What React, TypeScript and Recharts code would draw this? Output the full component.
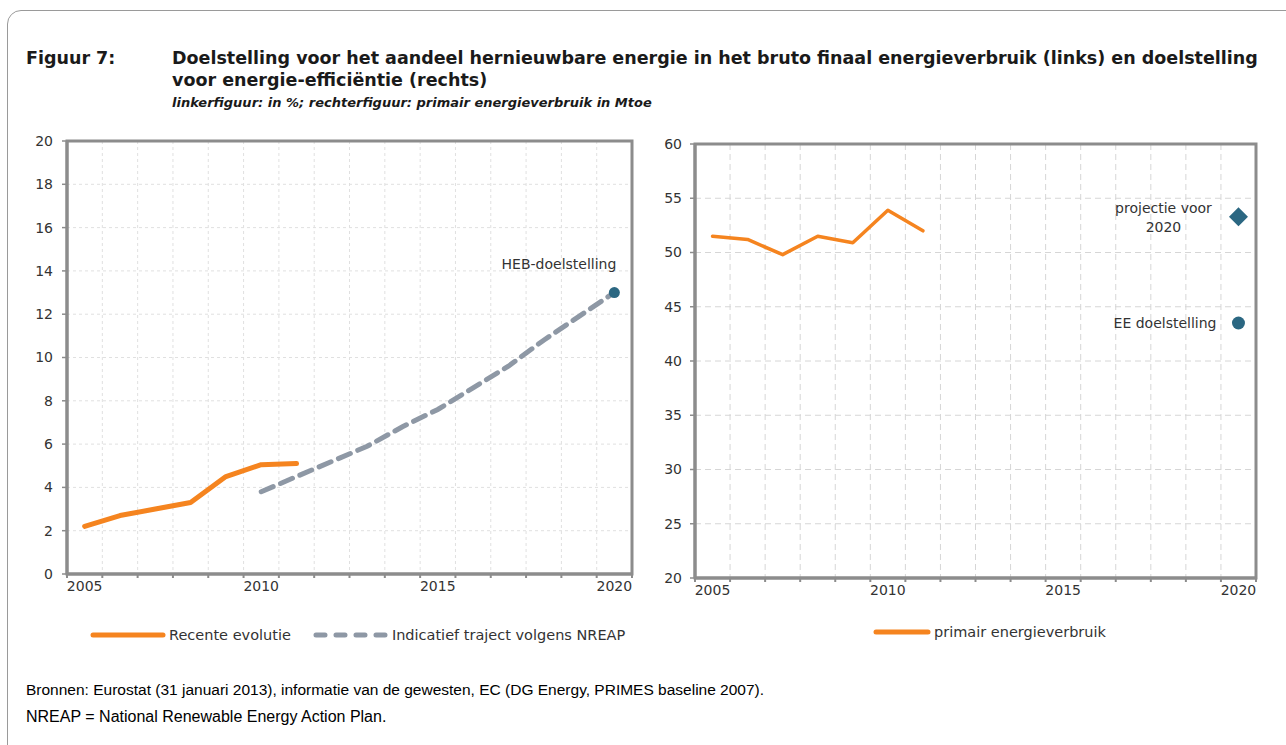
import React from "react";
import {
  CartesianGrid,
  ComposedChart,
  Line,
  ReferenceArea,
  Scatter,
  XAxis,
  YAxis,
} from "recharts";

const YEARS = [2005, 2006, 2007, 2008, 2009, 2010, 2011, 2012, 2013, 2014, 2015, 2016, 2017, 2018, 2019, 2020];
const YEAR_LABELS = [2005, 2010, 2015, 2020];

// linkerfiguur: aandeel hernieuwbare energie, %
const RECENT = [2.2, 2.7, 3.0, 3.3, 4.5, 5.05, 5.1, null, null, null, null, null, null, null, null, null];
const NREAP = [null, null, null, null, null, 3.8, 4.5, 5.2, 5.9, 6.8, 7.6, 8.6, 9.6, 10.8, 11.9, 13.0];
const HEB_TARGET = [null, null, null, null, null, null, null, null, null, null, null, null, null, null, null, 13.0];
const LEFT_TICKS = [0, 2, 4, 6, 8, 10, 12, 14, 16, 18, 20];

// rechterfiguur: primair energieverbruik, Mtoe
const PRIMARY = [51.5, 51.2, 49.8, 51.5, 50.9, 53.9, 52.0, null, null, null, null, null, null, null, null, null];
const PROJECTION = [null, null, null, null, null, null, null, null, null, null, null, null, null, null, null, 53.3];
const EE_TARGET = [null, null, null, null, null, null, null, null, null, null, null, null, null, null, null, 43.5];
const RIGHT_TICKS = [20, 25, 30, 35, 40, 45, 50, 55, 60];

const ORANGE = "#F5841F";
const GREY = "#8E98A5";
const TEAL = "#2B6782";
const AXIS = "#8C8C8C";
const TEXT = "#333333";
const FONT = "'DejaVu Sans', sans-serif";

// category borders, so grid lines fall between the years
const X_BOUNDS = [...YEARS.map((y) => y - 0.5), YEARS[YEARS.length - 1] + 0.5];
const X_DOMAIN = [X_BOUNDS[0], X_BOUNDS[X_BOUNDS.length - 1]];

const leftData = YEARS.map((year, i) => ({ year, recent: RECENT[i], nreap: NREAP[i] }));
const hebData = YEARS.map((year, i) => ({ year, v: HEB_TARGET[i] })).filter((d) => d.v != null);

const rightData = YEARS.map((year, i) => ({ year, primary: PRIMARY[i] }));
const projData = YEARS.map((year, i) => ({ year, v: PROJECTION[i] })).filter((d) => d.v != null);
const eeData = YEARS.map((year, i) => ({ year, v: EE_TARGET[i] })).filter((d) => d.v != null);

const tickStyle = { fontSize: 14, fill: TEXT, fontFamily: FONT };

function HebDot(props: any) {
  const { cx, cy } = props;
  return (
    <g>
      <circle cx={cx} cy={cy} r={5.5} fill={TEAL} />
      <text x={cx + 2} y={cy - 24} textAnchor="end" fontSize={14} fill={TEXT} fontFamily={FONT}>
        HEB-doelstelling
      </text>
    </g>
  );
}

function ProjDiamond(props: any) {
  const { cx, cy } = props;
  const s = 9.5;
  return (
    <g>
      <path d={`M${cx},${cy - s}L${cx + s},${cy}L${cx},${cy + s}L${cx - s},${cy}Z`} fill={TEAL} />
      <text x={cx - 75} y={cy - 4} textAnchor="middle" fontSize={14} fill={TEXT} fontFamily={FONT}>
        projectie voor
      </text>
      <text x={cx - 75} y={cy + 15} textAnchor="middle" fontSize={14} fill={TEXT} fontFamily={FONT}>
        2020
      </text>
    </g>
  );
}

function EeDot(props: any) {
  const { cx, cy } = props;
  return (
    <g>
      <circle cx={cx} cy={cy} r={6.5} fill={TEAL} />
      <text x={cx - 22} y={cy + 5} textAnchor="end" fontSize={14} fill={TEXT} fontFamily={FONT}>
        EE doelstelling
      </text>
    </g>
  );
}

function LegendItem({ color, dashed, width, label }: { color: string; dashed?: boolean; width: number; label: string }) {
  return (
    <div style={{ display: "flex", alignItems: "center" }}>
      <svg width={width + 6} height={10} style={{ marginRight: 3 }}>
        <line
          x1={3}
          y1={5}
          x2={width + 3}
          y2={5}
          stroke={color}
          strokeWidth={5}
          strokeLinecap="round"
          strokeDasharray={dashed ? "9 11" : undefined}
        />
      </svg>
      <span style={{ fontSize: 14.5, color: TEXT, fontFamily: FONT }}>{label}</span>
    </div>
  );
}

export default function App() {
  return (
    <div style={{ position: "fixed", left: 0, top: 0, width: 1286, height: 745, overflow: "hidden", background: "#fff" }}>
      <div
        style={{
          position: "absolute",
          left: 7,
          top: 10,
          width: 1320,
          height: 800,
          border: "1px solid #9a9a9a",
          borderRadius: 14,
        }}
      />

      {/* title */}
      <div style={{ position: "absolute", left: 26, top: 47, fontFamily: FONT, fontWeight: "bold", fontSize: 17.5, lineHeight: "22px", color: "#1a1a1a" }}>
        Figuur 7:
      </div>
      <div style={{ position: "absolute", left: 172, top: 47, width: 1110, fontFamily: FONT, fontWeight: "bold", fontSize: 17.5, lineHeight: "22px", color: "#1a1a1a", whiteSpace: "nowrap" }}>
        Doelstelling voor het aandeel hernieuwbare energie in het bruto finaal energieverbruik (links) en doelstelling
        <br />
        voor energie-efficiëntie (rechts)
      </div>
      <div style={{ position: "absolute", left: 172, top: 95, fontFamily: FONT, fontWeight: "bold", fontStyle: "italic", fontSize: 13, lineHeight: "16px", color: "#1a1a1a" }}>
        linkerfiguur: in %; rechterfiguur: primair energieverbruik in Mtoe
      </div>

      {/* left chart */}
      <div style={{ position: "absolute", left: 20, top: 125 }}>
        <ComposedChart width={640} height={480} data={leftData} margin={{ top: 16, right: 28, bottom: 2, left: 0 }}>
          <CartesianGrid xAxisId="grid" stroke="#e0e0e0" strokeDasharray="3 3" />
          <XAxis
            xAxisId="grid"
            type="number"
            dataKey="year"
            domain={X_DOMAIN}
            ticks={X_BOUNDS}
            tickFormatter={() => ""}
            height={5}
            tickSize={4}
            axisLine={{ stroke: AXIS, strokeWidth: 3 }}
            tickLine={{ stroke: AXIS, strokeWidth: 2 }}
          />
          <XAxis
            xAxisId="lbl"
            type="number"
            dataKey="year"
            domain={X_DOMAIN}
            ticks={YEAR_LABELS}
            height={24}
            tickSize={0}
            tickMargin={2}
            axisLine={false}
            tickLine={false}
            tick={tickStyle}
          />
          <YAxis
            type="number"
            domain={[0, 20]}
            ticks={LEFT_TICKS}
            width={47}
            tickSize={5}
            tickMargin={9}
            axisLine={{ stroke: AXIS, strokeWidth: 3 }}
            tickLine={{ stroke: AXIS, strokeWidth: 1.5 }}
            tick={tickStyle}
          />
          <ReferenceArea xAxisId="grid" x1={X_DOMAIN[0]} x2={X_DOMAIN[1]} y1={0} y2={20} fill="none" stroke={AXIS} strokeWidth={3} />
          <Line
            xAxisId="grid"
            dataKey="nreap"
            stroke={GREY}
            strokeWidth={5}
            strokeDasharray="13 8"
            strokeLinecap="round"
            dot={false}
            isAnimationActive={false}
          />
          <Line
            xAxisId="grid"
            dataKey="recent"
            stroke={ORANGE}
            strokeWidth={5}
            strokeLinecap="round"
            strokeLinejoin="round"
            dot={false}
            isAnimationActive={false}
          />
          <Scatter xAxisId="grid" data={hebData} dataKey="v" shape={HebDot} isAnimationActive={false} />
        </ComposedChart>
      </div>

      {/* right chart */}
      <div style={{ position: "absolute", left: 650, top: 125 }}>
        <ComposedChart width={630} height={485} data={rightData} margin={{ top: 19, right: 24, bottom: 3, left: 0 }}>
          <CartesianGrid xAxisId="grid" stroke="#d6d6d6" strokeDasharray="6 4" />
          <XAxis
            xAxisId="grid"
            type="number"
            dataKey="year"
            domain={X_DOMAIN}
            ticks={X_BOUNDS}
            tickFormatter={() => ""}
            height={5}
            tickSize={4}
            axisLine={{ stroke: AXIS, strokeWidth: 3 }}
            tickLine={{ stroke: AXIS, strokeWidth: 2 }}
          />
          <XAxis
            xAxisId="lbl"
            type="number"
            dataKey="year"
            domain={X_DOMAIN}
            ticks={YEAR_LABELS}
            height={24}
            tickSize={0}
            tickMargin={2}
            axisLine={false}
            tickLine={false}
            tick={tickStyle}
          />
          <YAxis
            type="number"
            domain={[20, 60]}
            ticks={RIGHT_TICKS}
            width={45}
            tickSize={5}
            tickMargin={8}
            axisLine={{ stroke: AXIS, strokeWidth: 3 }}
            tickLine={{ stroke: AXIS, strokeWidth: 1.5 }}
            tick={tickStyle}
          />
          <ReferenceArea xAxisId="grid" x1={X_DOMAIN[0]} x2={X_DOMAIN[1]} y1={20} y2={60} fill="none" stroke={AXIS} strokeWidth={3} />
          <Line
            xAxisId="grid"
            dataKey="primary"
            stroke={ORANGE}
            strokeWidth={3.5}
            strokeLinecap="round"
            strokeLinejoin="round"
            dot={false}
            isAnimationActive={false}
          />
          <Scatter xAxisId="grid" data={projData} dataKey="v" shape={ProjDiamond} isAnimationActive={false} />
          <Scatter xAxisId="grid" data={eeData} dataKey="v" shape={EeDot} isAnimationActive={false} />
        </ComposedChart>
      </div>

      {/* legends */}
      <div style={{ position: "absolute", left: 90, top: 627, display: "flex", gap: 22 }}>
        <LegendItem color={ORANGE} width={70} label="Recente evolutie" />
        <LegendItem color={GREY} width={70} dashed label="Indicatief traject volgens NREAP" />
      </div>
      <div style={{ position: "absolute", left: 873, top: 624 }}>
        <LegendItem color={ORANGE} width={52} label="primair energieverbruik" />
      </div>

      {/* sources */}
      <div style={{ position: "absolute", left: 26, top: 681, fontFamily: "'Liberation Sans', Arial, sans-serif", fontSize: 15.5, lineHeight: "18px", color: "#000", whiteSpace: "nowrap" }}>
        Bronnen: Eurostat (31 januari 2013), informatie van de gewesten, EC (DG Energy, PRIMES baseline 2007).
      </div>
      <div style={{ position: "absolute", left: 26, top: 708, fontFamily: "'Liberation Sans', Arial, sans-serif", fontSize: 16, lineHeight: "18px", color: "#000" }}>
        NREAP = National Renewable Energy Action Plan.
      </div>
    </div>
  );
}
